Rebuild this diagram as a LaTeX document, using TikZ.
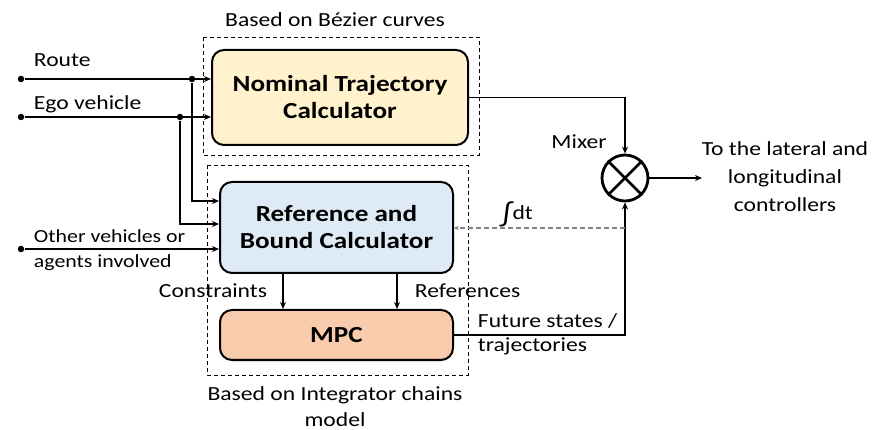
\documentclass[tikz,border=0pt]{standalone}
\usepackage{fontspec}
\setmainfont{Carlito}[FakeStretch=1.18]
\usetikzlibrary{arrows.meta}
\definecolor{nomfill}{HTML}{FFF2CC}
\definecolor{reffill}{HTML}{DEEBF7}
\definecolor{mpcfill}{HTML}{F8CBAD}

\begin{document}
\begin{tikzpicture}[x=1pt, y=-1pt, line width=1.9pt, >={Stealth[length=7pt,width=6pt]},
    block/.style={draw, rounded corners=12pt, line width=2pt, align=center, inner sep=0pt,
        font=\fontsize{23}{27}\selectfont\bfseries},
    lbl/.style={inner sep=0pt, font=\fontsize{20}{25}\selectfont},
    frame/.style={draw, line width=0.8pt, dash pattern=on 4pt off 3pt},
    dot/.style={circle, fill, inner sep=0pt, minimum size=6.5pt}]
    \useasboundingbox (0, 0) rectangle (873, 430);

    % dashed frames
    \draw[frame] (203, 37) rectangle (479, 155);
    \draw[frame] (207, 165) rectangle (468, 375);

    % blocks
    \node[block, fill=nomfill, minimum width=256pt, minimum height=95pt] (nom) at (340, 97.5) {Nominal Trajectory\\Calculator};
    \node[block, fill=reffill, minimum width=233pt, minimum height=91pt] (ref) at (336.5, 227.5) {Reference and\\Bound Calculator};
    \node[block, fill=mpcfill, minimum width=233pt, minimum height=50pt] (mpc) at (336.5, 335) {MPC};

    % mixer
    \node[circle, draw, line width=2.8pt, minimum size=46pt, inner sep=0pt] (mix) at (625, 178) {};
    \draw[line width=2.8pt] (mix.45) -- (mix.225);
    \draw[line width=2.8pt] (mix.135) -- (mix.315);

    % inputs
    \node[dot] (route) at (21, 79) {};
    \node[dot] (routej) at (192, 79) {};
    \node[dot] (ego) at (21, 117) {};
    \node[dot] (egoj) at (180, 117) {};
    \node[dot] (other) at (21, 249) {};
    \draw[->] (route) -- (route -| nom.west);
    \draw[->] (ego) -- (ego -| nom.west);
    \draw[->] (routej) |- ([yshift=26.5pt]ref.west);
    \draw[->] (egoj) |- ([yshift=3.5pt]ref.west);
    \draw[->] (other) -- (other -| ref.west);

    % ref -> mpc
    \draw[->] (283, 273) coordinate (c1) -- (c1 |- mpc.north);
    \draw[->] (397, 273) coordinate (c2) -- (c2 |- mpc.north);

    % to mixer
    \draw[->] (nom.east) -| (mix.north);
    \draw[->] (mpc.east) -| (mix.south);
    \coordinate (fb) at (625, 228);
    \draw[->, gray, line width=1.3pt, dash pattern=on 5pt off 3pt, >={Stealth[length=5pt,width=4.5pt]}] (fb) -- (fb -| ref.east);
    \coordinate (out) at (702, 178);
    \draw[->] (mix.east) -- (out);

    % labels
    \node[lbl] (bez) at (335, 20) {Based on Bézier curves};
    \node[lbl, anchor=base west] (routel) at (33, 67) {Route};
    \node[lbl, anchor=base west] (egol) at (33, 110) {Ego vehicle};
    \node[lbl, anchor=base west, font=\fontsize{18.5}{25}\selectfont] (otherl) at (33, 243) {Other vehicles or};
    \node[lbl, anchor=base west, font=\fontsize{18.5}{25}\selectfont] (otherl2) at (33, 268) {agents involved};
    \node[lbl, anchor=base east] (cons) at (268, 298) {Constraints};
    \node[lbl, anchor=base west] (refs) at (414, 298) {References};
    \node[lbl, anchor=base west] (fut) at (477, 327) {Future states /};
    \node[lbl, anchor=base west] (fut2) at (477, 352) {trajectories};
    \node[lbl, anchor=base] (mixl) at (579, 149) {Mixer};
    \node[lbl, anchor=base west] (intl) at (500, 220) {\raisebox{-3pt}{\fontsize{27}{27}\selectfont ∫}dt};
    \node[lbl, anchor=base] (to1) at (785, 156) {To the lateral and};
    \node[lbl, anchor=base] (to2) at (785, 184) {longitudinal};
    \node[lbl, anchor=base] (to3) at (785, 212) {controllers};
    \node[lbl, anchor=base] (int1) at (335, 400) {Based on Integrator chains};
    \node[lbl, anchor=base] (int2) at (335, 426) {model};
\end{tikzpicture}
\end{document}
